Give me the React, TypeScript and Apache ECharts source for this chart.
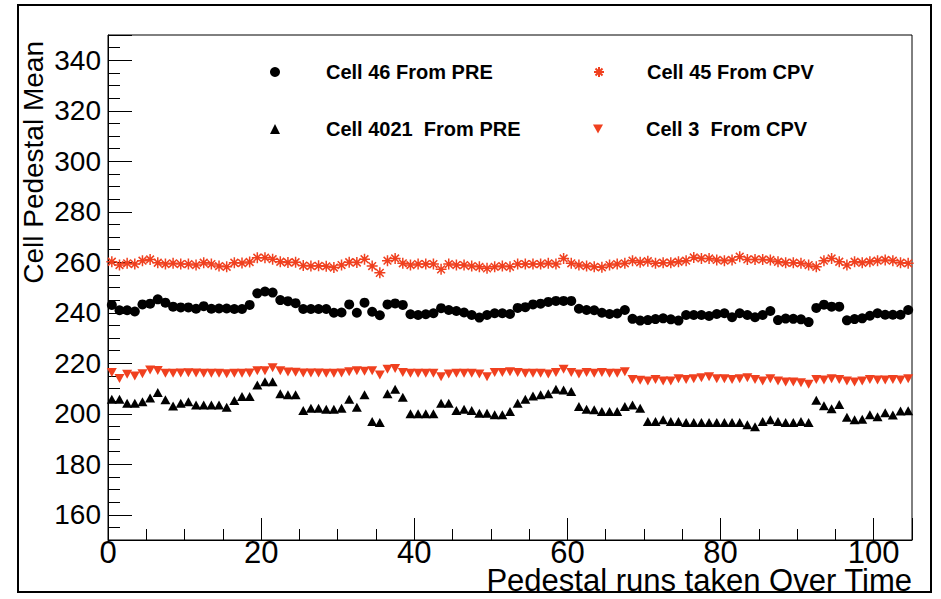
import React, { useEffect, useRef } from "react";
import * as echarts from "echarts";

// Run index = histogram bin centres (bins 0..105)
const runs: number[] = Array.from({ length: 105 }, (_, i) => i + 0.5);

const xTickLabels = [0, 20, 40, 60, 80, 100];
const yTickLabels = [160, 180, 200, 220, 240, 260, 280, 300, 320, 340];

const cell46Pre = [
  243.1, 241.0, 241.0, 240.5, 243.3, 243.6, 245.3, 244.0, 242.4, 242.1,
  242.1, 241.6, 242.6, 241.6, 241.7, 241.7, 241.5, 241.5, 243.1, 247.7,
  248.4, 248.0, 245.0, 244.6, 243.8, 241.5, 241.5, 241.5, 241.5, 240.0,
  240.1, 243.3, 240.0, 244.0, 240.4, 239.0, 243.3, 243.7, 243.1, 239.4,
  239.1, 239.4, 239.8, 241.8, 241.1, 240.7, 240.1, 239.1, 238.1, 239.1,
  239.8, 239.8, 239.5, 241.9, 242.2, 243.3, 243.6, 244.3, 244.7, 244.7,
  244.7, 241.6, 241.1, 241.0, 240.0, 239.5, 239.7, 241.1, 237.6, 236.9,
  237.1, 237.5, 237.8, 237.4, 236.9, 239.1, 239.1, 239.1, 238.7, 239.5,
  239.8, 238.2, 239.8, 239.1, 238.2, 239.1, 240.7, 237.1, 237.7, 237.6,
  237.4, 236.3, 241.9, 243.2, 242.4, 242.4, 237.0, 237.5, 237.8, 238.8,
  239.8, 239.2, 239.2, 239.2, 241.1,
];

const cell45Cpv = [
  260.2, 258.9, 259.6, 259.3, 260.6, 261.1, 259.8, 259.3, 259.6, 259.3,
  259.3, 258.9, 259.8, 259.3, 258.5, 258.2, 259.8, 259.7, 260.1, 261.8,
  261.8, 261.2, 260.2, 259.9, 260.0, 258.7, 258.5, 258.6, 258.4, 257.9,
  258.9, 260.0, 259.9, 261.2, 258.5, 255.8, 260.6, 261.5, 259.6, 258.9,
  259.3, 259.3, 259.3, 257.2, 259.3, 258.9, 258.9, 258.5, 258.2, 257.6,
  258.2, 258.5, 258.2, 259.3, 259.3, 259.3, 259.3, 259.6, 259.3, 261.5,
  259.6, 258.9, 258.5, 258.2, 258.0, 258.9, 259.3, 259.6, 260.6, 260.0,
  260.4, 259.6, 259.8, 259.8, 260.2, 260.6, 261.9, 261.5, 261.5, 260.9,
  260.6, 260.9, 262.2, 261.1, 261.1, 261.1, 260.9, 260.2, 259.8, 259.8,
  259.6, 258.9, 258.2, 260.6, 261.5, 260.2, 258.9, 260.2, 259.8, 260.2,
  260.6, 260.9, 260.6, 259.8, 259.6,
];

const cell4021Pre = [
  205.7, 205.7, 204.2, 204.2, 204.8, 206.2, 208.4, 205.5, 203.1, 204.2,
  204.8, 203.5, 203.5, 203.5, 203.5, 202.6, 205.2, 206.8, 206.8, 211.4,
  212.7, 212.7, 207.9, 207.5, 207.5, 201.3, 202.2, 202.2, 201.8, 201.8,
  202.2, 205.7, 202.6, 207.5, 196.9, 196.5, 207.9, 209.7, 206.5, 200.0,
  200.0, 200.0, 200.0, 204.2, 204.2, 201.3, 201.8, 201.3, 200.2, 200.2,
  199.6, 199.6, 200.9, 204.2, 205.7, 207.0, 207.5, 207.9, 209.7, 209.4,
  208.8, 202.9, 201.8, 201.6, 200.9, 200.9, 200.9, 202.9, 203.5, 202.2,
  196.9, 196.9, 197.6, 196.9, 196.9, 196.5, 196.5, 196.5, 196.5, 196.5,
  196.5, 196.5, 196.5, 195.6, 194.9, 196.9, 197.6, 196.9, 196.5, 196.5,
  196.9, 196.5, 205.3, 203.2, 202.0, 203.7, 198.6, 197.6, 197.8, 199.6,
  198.8, 200.4, 199.5, 201.1, 201.2,
];

const cell3Cpv = [
  216.3, 214.0, 215.6, 215.0, 215.8, 217.3, 217.1, 216.0, 216.0, 216.1,
  216.2, 216.1, 216.0, 216.0, 216.0, 215.8, 216.0, 216.0, 216.1, 217.0,
  217.0, 218.2, 217.0, 216.5, 216.4, 216.1, 216.1, 216.1, 216.0, 216.0,
  216.1, 216.6, 217.0, 216.8, 217.0, 215.3, 217.6, 217.9, 216.3, 216.0,
  216.0, 216.0, 216.0, 214.7, 215.7, 216.0, 216.0, 216.0, 215.7, 214.7,
  216.3, 216.3, 216.6, 216.3, 216.0, 216.0, 216.0, 215.7, 216.3, 217.6,
  216.3, 215.7, 216.3, 216.0, 216.3, 216.0, 216.0, 216.6, 213.6, 213.3,
  213.0, 213.6, 213.0, 213.0, 213.9, 213.6, 213.9, 214.3, 214.7, 213.9,
  213.9, 213.6, 213.9, 214.3, 213.6, 213.0, 213.9, 213.0, 212.6, 212.6,
  212.3, 211.7, 213.6, 213.4, 213.9, 213.6, 213.0, 212.6, 213.0, 213.6,
  213.4, 213.4, 213.6, 213.4, 213.9,
];

const seriesNames = [
  "Cell 46 From PRE",
  "Cell 45 From CPV",
  "Cell 4021  From PRE",
  "Cell 3  From CPV",
];

const FONT = "'Liberation Sans', Arial, Helvetica, sans-serif";
const RED = "#f0401f";
const STAR = "path://M5,0L5,10M0,5L10,5M1.5,1.5L8.5,8.5M8.5,1.5L1.5,8.5";
const DOWN_TRI = "path://M0,0L10,0L5,9Z";

const pairs = (vals: number[]) => runs.map((x, i) => [x, vals[i]]);

export default function App() {
  const ref = useRef<HTMLDivElement>(null);
  useEffect(() => {
    if (!ref.current) return;
    const chart = echarts.init(ref.current, null, { renderer: "svg" });
    const legendText = (pad: number) => ({
      fontFamily: FONT,
      fontSize: 20,
      fontWeight: "bold",
      color: "#000",
      padding: [0, 0, 0, pad],
    });
    const legendCommon = {
      padding: 0,
      itemWidth: 10,
      itemHeight: 10,
      selectedMode: false,
    };
    const option: any = {
      animation: false,
      backgroundColor: "#ffffff",
      grid: {
        left: 108,
        top: 35,
        width: 804,
        height: 505,
        show: true,
        borderColor: "#000",
        borderWidth: 1,
        backgroundColor: "transparent",
      },
      legend: [
        { ...legendCommon, data: [seriesNames[0]], left: 270, top: 62, textStyle: legendText(41) },
        { ...legendCommon, data: [seriesNames[1]], left: 593, top: 62, textStyle: legendText(38) },
        { ...legendCommon, data: [seriesNames[2]], left: 270, top: 119, textStyle: legendText(41) },
        {
          ...legendCommon,
          data: [{ name: seriesNames[3], icon: DOWN_TRI }],
          left: 593,
          top: 119,
          textStyle: legendText(38),
        },
      ],
      xAxis: [
        {
          type: "value",
          min: 0,
          max: 105,
          interval: 20,
          position: "bottom",
          axisLine: { show: true, onZero: false, lineStyle: { color: "#000", width: 1 } },
          axisTick: { show: true, inside: true, length: 22, lineStyle: { color: "#000", width: 1 } },
          axisLabel: {
            margin: -1,
            fontSize: 31,
            lineHeight: 26,
            fontFamily: FONT,
            color: "#000",
            formatter: (v: number) => (xTickLabels.indexOf(v) >= 0 ? String(v) : ""),
          },
          splitLine: { show: false },
        },
        {
          type: "value",
          min: 0,
          max: 105,
          interval: 5,
          position: "bottom",
          axisLine: { show: false, onZero: false },
          axisTick: { show: true, inside: true, length: 11, lineStyle: { color: "#000", width: 1 } },
          axisLabel: { show: false },
          splitLine: { show: false },
        },
      ],
      yAxis: [
        {
          type: "value",
          min: 150,
          max: 350,
          splitNumber: 10,
          position: "left",
          axisLine: { show: true, onZero: false, lineStyle: { color: "#000", width: 1 } },
          axisTick: { show: true, inside: true, length: 24, lineStyle: { color: "#000", width: 1 } },
          axisLabel: {
            margin: 7,
            fontSize: 28,
            fontFamily: FONT,
            color: "#000",
            formatter: (v: number) => (yTickLabels.indexOf(v) >= 0 ? String(v) : ""),
          },
          splitLine: { show: false },
        },
        {
          type: "value",
          min: 150,
          max: 350,
          interval: 5,
          position: "left",
          axisLine: { show: false, onZero: false },
          axisTick: { show: true, inside: true, length: 12, lineStyle: { color: "#000", width: 1 } },
          axisLabel: { show: false },
          splitLine: { show: false },
        },
      ],
      graphic: [
        {
          type: "rect",
          shape: { x: 18, y: 5, width: 913, height: 587 },
          style: { fill: "none", stroke: "#000", lineWidth: 2 },
          silent: true,
        },
        {
          type: "text",
          x: 912,
          y: 580,
          style: {
            text: "Pedestal runs taken Over Time",
            fontFamily: FONT,
            fontSize: 31,
            lineHeight: 24,
            fill: "#000",
            align: "right",
            verticalAlign: "middle",
          },
          silent: true,
        },
        {
          type: "text",
          x: 33,
          y: 41,
          rotation: Math.PI / 2,
          style: {
            text: "Cell Pedestal Mean",
            fontFamily: FONT,
            fontSize: 28,
            fill: "#000",
            align: "right",
            verticalAlign: "middle",
          },
          silent: true,
        },
      ],
      series: [
        {
          name: seriesNames[0],
          type: "scatter",
          data: pairs(cell46Pre),
          symbol: "circle",
          symbolSize: 10,
          itemStyle: { color: "#000", opacity: 1 },
          silent: true,
        },
        {
          name: seriesNames[1],
          type: "scatter",
          data: pairs(cell45Cpv),
          symbol: STAR,
          symbolSize: 11,
          itemStyle: { color: RED, borderColor: RED, borderWidth: 1.5, opacity: 1 },
          silent: true,
        },
        {
          name: seriesNames[2],
          type: "scatter",
          data: pairs(cell4021Pre),
          symbol: "triangle",
          symbolSize: [10, 9],
          itemStyle: { color: "#000", opacity: 1 },
          silent: true,
        },
        {
          name: seriesNames[3],
          type: "scatter",
          data: pairs(cell3Cpv),
          symbol: "triangle",
          symbolRotate: 180,
          symbolSize: [10, 9],
          itemStyle: { color: RED, opacity: 1 },
          silent: true,
        },
      ],
    };
    chart.setOption(option);
    return () => chart.dispose();
  }, []);
  return (
    <div
      ref={ref}
      style={{ position: "fixed", left: 0, top: 0, width: 941, height: 599, background: "#fff" }}
    />
  );
}
